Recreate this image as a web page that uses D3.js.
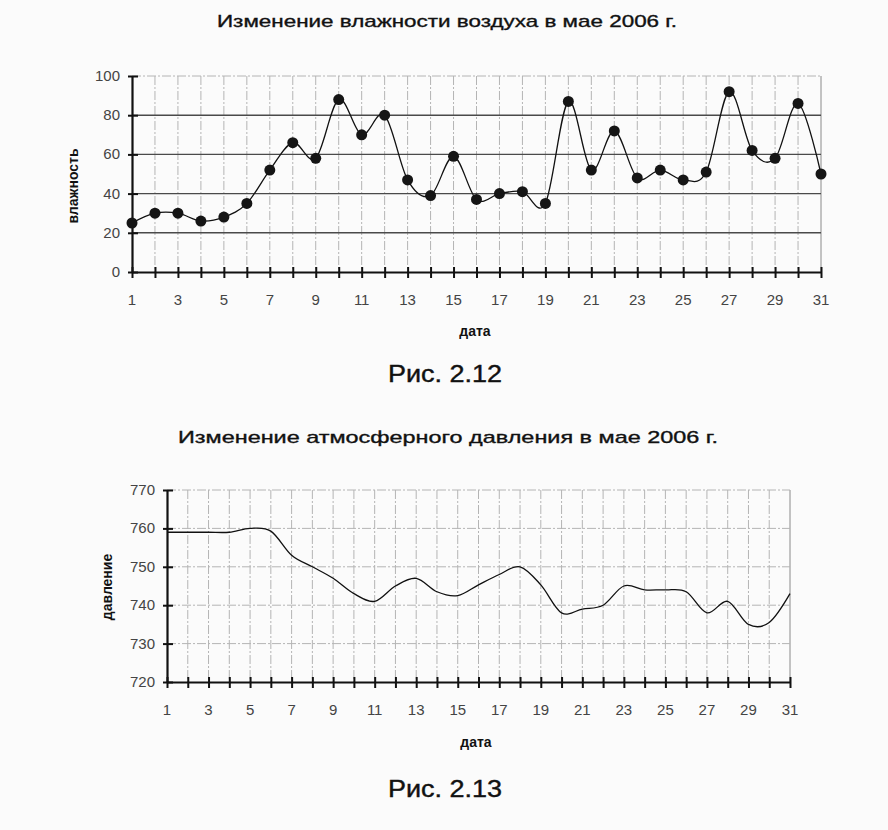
<!DOCTYPE html>
<html>
<head>
<meta charset="utf-8">
<script src="https://cdn.jsdelivr.net/npm/d3@7"></script>
<style>
html,body{margin:0;padding:0;background:#fbfbfb;}
svg{display:block;}
text{font-family:"Liberation Sans",Arial,sans-serif;}
</style>
</head>
<body>
<svg id="c" width="888" height="830"></svg>
<script>
// ---- data ----
const days = d3.range(1, 32);
const dayTickLabels = [1,3,5,7,9,11,13,15,17,19,21,23,25,27,29,31];
const humidity = [25,30,30,26,28,35,52,66,58,88,70,80,47,39,59,37,40,41,35,87,52,72,48,52,47,51,92,62,58,86,50];
const humidityTicks = [0,20,40,60,80,100];
const pressure = [759,759,759,759,760,759.3,753,750,747,743,741,745,747,743.5,742.5,745.3,748,750,745.3,738,739,740,745,744,744,743.5,738,741,735,735.5,743];
const pressureTicks = [720,730,740,750,760,770];
const title1 = "Изменение влажности воздуха в мае 2006 г.";
const title2 = "Изменение атмосферного давления в мае 2006 г.";
const caption1 = "Рис. 2.12";
const caption2 = "Рис. 2.13";
const yLabel1 = "влажность";
const yLabel2 = "давление";
const xLabel = "дата";

const svg = d3.select("#c");

function chart(cfg){
  const g = svg.append("g");
  const x = d3.scaleLinear().domain([1,31]).range([cfg.x0, cfg.x1]);
  const y = d3.scaleLinear().domain(cfg.yDomain).range([cfg.yBottom, cfg.yTop]);

  // vertical grid
  g.selectAll(".vg").data(days.slice(1)).enter().append("line")
    .attr("x1", d=>x(d)).attr("x2", d=>x(d))
    .attr("y1", cfg.yTop).attr("y2", cfg.yBottom)
    .attr("stroke", d => d===31 ? "#8a8a8a" : "#b4b4b4")
    .attr("stroke-width", 1)
    .attr("stroke-dasharray", d => d===31 ? null : "9,2,2,2");

  // horizontal grid
  g.selectAll(".hg").data(cfg.yTicks.slice(1)).enter().append("line")
    .attr("x1", cfg.x0).attr("x2", cfg.x1)
    .attr("y1", d=>y(d)).attr("y2", d=>y(d))
    .attr("stroke", d => (cfg.solidH && d !== cfg.yDomain[1]) ? "#4a4a4a" : "#b4b4b4")
    .attr("stroke-width", d => (cfg.solidH && d !== cfg.yDomain[1]) ? 1.4 : 1)
    .attr("stroke-dasharray", d => (cfg.solidH && d !== cfg.yDomain[1]) ? null : "9,2,2,2");

  // axes
  const xAxis = d3.axisBottom(x).tickValues(days).tickSizeInner(6).tickSizeOuter(0).tickFormat("");
  const xa = g.append("g").attr("transform", `translate(0,${cfg.yBottom})`).call(xAxis);
  xa.select(".domain").attr("stroke","#111").attr("stroke-width",2.2);
  xa.selectAll(".tick line").attr("stroke","#111").attr("stroke-width",2).attr("y1",-5).attr("y2",6);

  const yAxis = d3.axisLeft(y).tickValues(cfg.yTicks).tickSizeInner(4).tickSizeOuter(0).tickFormat("");
  const ya = g.append("g").attr("transform", `translate(${cfg.x0},0)`).call(yAxis);
  ya.select(".domain").attr("stroke","#111").attr("stroke-width",2.2);
  ya.selectAll(".tick line").attr("stroke","#111").attr("stroke-width",2).attr("x1",-4).attr("x2",6);

  // tick labels
  g.selectAll(".xl").data(dayTickLabels).enter().append("text")
    .attr("x", d=>x(d)).attr("y", cfg.yBottom + 33)
    .attr("text-anchor","middle").attr("font-size",15).attr("fill","#444")
    .text(d=>d);
  g.selectAll(".yl").data(cfg.yTicks).enter().append("text")
    .attr("x", cfg.x0 - 12).attr("y", d=>y(d)+5)
    .attr("text-anchor","end").attr("font-size",15).attr("fill","#444")
    .text(d=>d);

  // axis titles
  g.append("text").attr("x", cfg.xLabelX).attr("y", cfg.xLabelY)
    .attr("text-anchor","middle").attr("font-size",14).attr("font-weight","bold").attr("fill","#111")
    .text(xLabel);
  g.append("text").attr("transform", `translate(${cfg.yLabelX},${cfg.yLabelY}) rotate(-90)`)
    .attr("text-anchor","middle").attr("font-size",14).attr("font-weight","bold").attr("fill","#111")
    .text(cfg.yLabel);

  // line
  const line = d3.line().x((d,i)=>x(days[i])).y(d=>y(d)).curve(d3.curveCatmullRom.alpha(0));
  g.append("path").datum(cfg.values).attr("d", line)
    .attr("fill","none").attr("stroke","#111").attr("stroke-width",1.3);

  if (cfg.markers){
    g.selectAll(".pt").data(cfg.values).enter().append("circle")
      .attr("cx",(d,i)=>x(days[i])).attr("cy",d=>y(d)).attr("r",5.5)
      .attr("fill","#151515");
  }

  // chart title & caption
  g.append("text").attr("x", cfg.titleX).attr("y", cfg.titleY)
    .attr("font-size",17).attr("fill","#111").attr("stroke","#111").attr("stroke-width",0.35)
    .attr("textLength", cfg.titleLen).attr("lengthAdjust","spacingAndGlyphs")
    .text(cfg.title);
  g.append("text").attr("x", 388).attr("y", cfg.capY)
    .attr("font-size",23).attr("fill","#111").attr("stroke","#111").attr("stroke-width",0.4)
    .attr("textLength", 114).attr("lengthAdjust","spacingAndGlyphs")
    .text(cfg.caption);
}

chart({
  x0:132, x1:821, yTop:76, yBottom:272, yDomain:[0,100], yTicks:humidityTicks,
  values:humidity, markers:true, solidH:true,
  xLabelX:475, xLabelY:336, yLabelX:78, yLabelY:186, yLabel:yLabel1,
  title:title1, titleX:217, titleY:27, titleLen:460,
  caption:caption1, capY:382
});
chart({
  x0:167, x1:790, yTop:490, yBottom:682, yDomain:[720,770], yTicks:pressureTicks,
  values:pressure, markers:false, solidH:false,
  xLabelX:476, xLabelY:747, yLabelX:112, yLabelY:587, yLabel:yLabel2,
  title:title2, titleX:178, titleY:443, titleLen:540,
  caption:caption2, capY:797
});
</script>
</body>
</html>
